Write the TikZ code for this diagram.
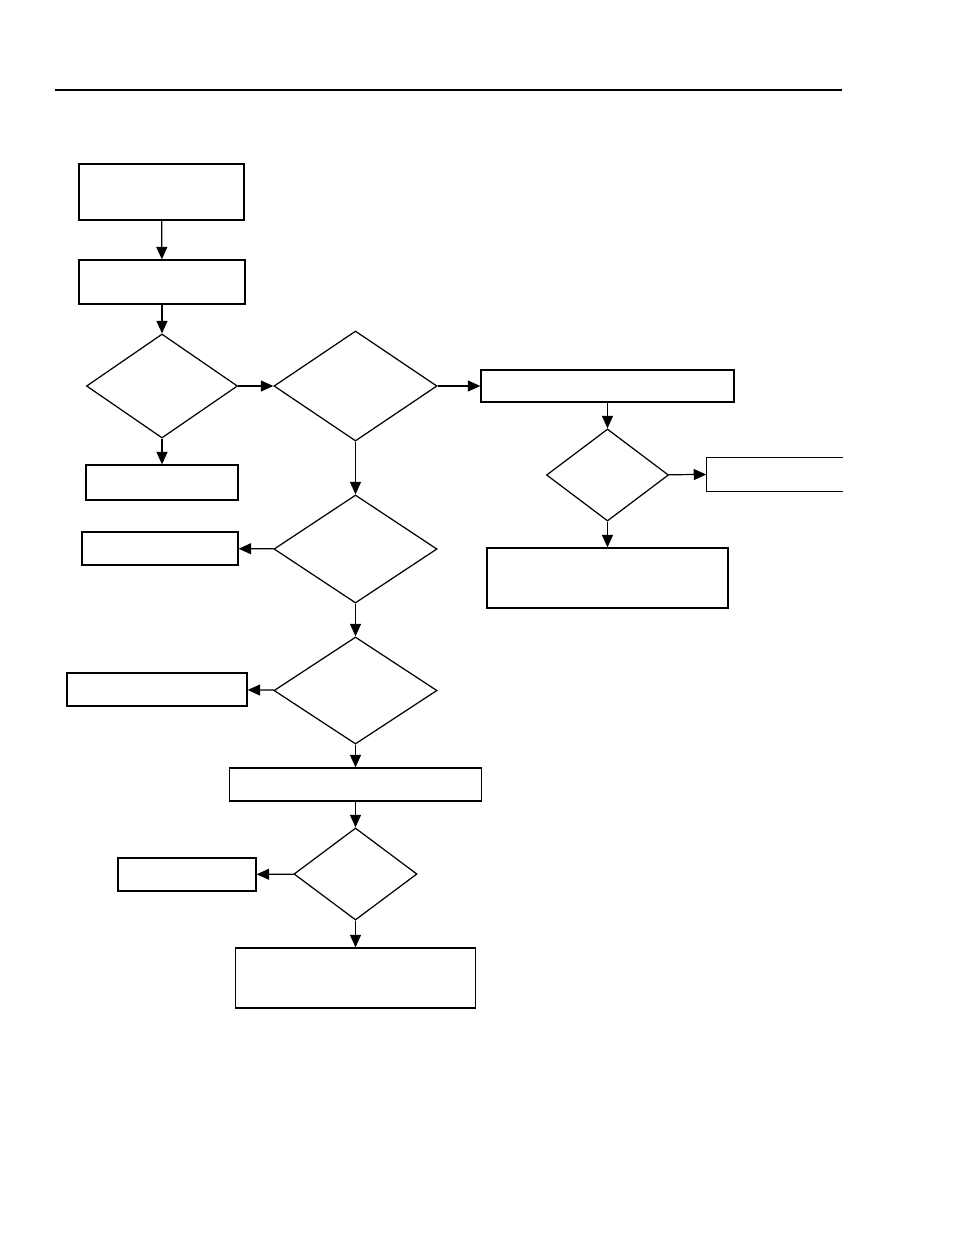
\documentclass[tikz,border=0pt]{standalone}
\usepackage{tikz}
\usetikzlibrary{arrows.meta,shapes.geometric}
\tikzset{
  ar/.style={-{Triangle[length=1.25mm,width=1.1mm]},line width=0.35pt},
  box/.style={draw,line width=0.35pt,inner sep=0pt},
  dec/.style={diamond,draw,line width=0.35pt,inner sep=0pt,aspect=1.5}
}
\begin{document}
\begin{tikzpicture}[x=0.01cm,y=-0.01cm]
\useasboundingbox (0,0) rectangle (954,1235);
\draw[line width=0.55pt] (55,90) -- (842,90);
% left column
\node[box,minimum width=1.65cm,minimum height=0.56cm] (start) at (161.5,192) {};
\node[box,minimum width=1.66cm,minimum height=0.44cm] (init) at (162,282) {};
\node[dec,minimum width=1.51cm,minimum height=1.04cm] (q1) at (162,386) {};
\node[box,minimum width=1.52cm,minimum height=0.35cm] (r1) at (162,482.5) {};
% middle column
\node[dec,minimum width=1.63cm,minimum height=1.10cm] (q2) at (355.5,386) {};
\node[dec,minimum width=1.63cm,minimum height=1.08cm] (q4) at (355.5,549) {};
\node[box,minimum width=1.56cm,minimum height=0.33cm] (r4) at (160,548.5) {};
\node[dec,minimum width=1.63cm,minimum height=1.07cm] (q5) at (355.5,690.5) {};
\node[box,minimum width=1.80cm,minimum height=0.33cm] (r5) at (157,689.5) {};
\node[box,minimum width=2.52cm,minimum height=0.33cm] (step) at (355.5,784.5) {};
\node[dec,minimum width=1.23cm,minimum height=0.92cm] (q6) at (355.5,874) {};
\node[box,minimum width=1.38cm,minimum height=0.33cm] (r6) at (187,874.5) {};
\node[box,minimum width=2.40cm,minimum height=0.60cm] (done) at (355.5,978) {};
% right column
\node[box,minimum width=2.53cm,minimum height=0.32cm] (r2) at (607.5,386) {};
\node[dec,minimum width=1.22cm,minimum height=0.92cm] (q3) at (607.5,475) {};
\node[inner sep=0pt,minimum width=1.35cm,minimum height=0.33cm] (r3) at (774.5,474.5) {};
\draw[line width=0.35pt] (r3.north east) -- (r3.north west) -- (r3.south west) -- (r3.south east);
\node[box,minimum width=2.41cm,minimum height=0.60cm] (r7) at (607.5,578) {};
% connectors
\draw[ar] (start) -- (init);
\draw[ar] (init) -- (q1);
\draw[ar] (q1) -- (q2);
\draw[ar] (q1) -- (r1);
\draw[ar] (q2) -- (r2);
\draw[ar] (q2) -- (q4);
\draw[ar] (r2) -- (q3);
\draw[ar] (q3) -- (r3.west);
\draw[ar] (q3) -- (r7);
\draw[ar] (q4) -- (r4);
\draw[ar] (q4) -- (q5);
\draw[ar] (q5) -- (r5);
\draw[ar] (q5) -- (step);
\draw[ar] (step) -- (q6);
\draw[ar] (q6) -- (r6);
\draw[ar] (q6) -- (done);
\end{tikzpicture}
\end{document}
